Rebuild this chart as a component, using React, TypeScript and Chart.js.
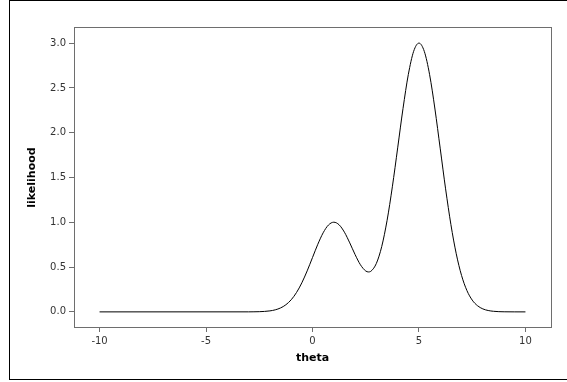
import React, { useEffect, useRef } from "react";
import { Chart, registerables } from "chart.js";

Chart.register(...registerables);

// Sampled likelihood curve over theta
const theta: number[] = [
  -10, -3, -2.75, -2.5, -2.25, -2, -1.75, -1.5, -1.25, -1, -0.75, -0.5, -0.25,
  0, 0.25, 0.5, 0.75, 1, 1.25, 1.5, 1.75, 2, 2.25, 2.5, 2.625, 2.75, 3, 3.25,
  3.5, 3.75, 4, 4.25, 4.5, 4.75, 5, 5.25, 5.5, 5.75, 6, 6.25, 6.5, 6.75, 7,
  7.25, 7.5, 7.75, 8, 8.25, 8.5, 8.75, 9, 9.5, 10,
];
const likelihood: number[] = [
  0, 0.0003, 0.0009, 0.0022, 0.0051, 0.0111, 0.0228, 0.0439, 0.0796, 0.1353,
  0.2163, 0.3247, 0.4578, 0.6065, 0.7549, 0.8826, 0.9696, 1.001, 0.9718,
  0.8891, 0.7701, 0.6398, 0.5262, 0.4564, 0.4459, 0.4551, 0.5413, 0.7285,
  1.018, 1.3962, 1.8307, 2.2695, 2.6497, 2.9085, 3.0003, 2.9077, 2.6475,
  2.2644, 1.8196, 1.3734, 0.9741, 0.6489, 0.406, 0.2388, 0.1317, 0.0684,
  0.0333, 0.0153, 0.0066, 0.0026, 0.001, 0.0001, 0,
];

const xTicks: number[] = [-10, -5, 0, 5, 10];
const yTicks: number[] = [0, 0.5, 1, 1.5, 2, 2.5, 3];

const xTitle = "theta";
const yTitle = "likelihood";

const tickFont = { family: "'DejaVu Sans', sans-serif", size: 10 };
const titleFont = { family: "'DejaVu Sans', sans-serif", size: 11, weight: "bold" as const };

// Frame around the plot area and the outer panel border
const framePlugin = {
  id: "frames",
  afterDraw(chart: Chart) {
    const { ctx, chartArea } = chart;
    ctx.save();
    ctx.lineWidth = 1;
    ctx.strokeStyle = "#6e6e6e";
    const l = Math.round(chartArea.left) + 0.5;
    const t = Math.round(chartArea.top) + 0.5;
    const r = Math.round(chartArea.right) + 0.5;
    const b = Math.round(chartArea.bottom) - 0.5;
    ctx.strokeRect(l, t, r - l, b - t);
    ctx.strokeStyle = "#000";
    ctx.strokeRect(9.5, 0.5, 600, 379);
    ctx.restore();
  },
};

export default function App() {
  const canvasRef = useRef<HTMLCanvasElement | null>(null);

  useEffect(() => {
    if (!canvasRef.current) return;
    const chart = new Chart(canvasRef.current, {
      type: "line",
      data: {
        datasets: [
          {
            data: theta.map((t, i) => ({ x: t, y: likelihood[i] })),
            borderColor: "#000",
            borderWidth: 1,
            pointRadius: 0,
            cubicInterpolationMode: "monotone",
            fill: false,
          },
        ],
      },
      options: {
        responsive: false,
        animation: false,
        events: [],
        layout: { padding: { left: 0, top: 27, right: 16, bottom: 0 } },
        plugins: { legend: { display: false }, tooltip: { enabled: false } },
        scales: {
          x: {
            type: "linear",
            min: -11.2,
            max: 11.2,
            afterBuildTicks: (scale: any) => {
              scale.ticks = xTicks.map((v) => ({ value: v }));
            },
            afterFit: (scale: any) => {
              scale.height = 54;
            },
            grid: { drawOnChartArea: false, tickLength: 4, color: "#6e6e6e" },
            border: { display: false },
            ticks: {
              font: tickFont,
              color: "#333",
              padding: 3,
              maxRotation: 0,
              callback: (v: any) => String(v),
            },
            title: {
              display: true,
              text: xTitle,
              font: titleFont,
              color: "#000",
              padding: { top: 0, bottom: 17 },
            },
          },
          y: {
            type: "linear",
            min: -0.18,
            max: 3.18,
            afterBuildTicks: (scale: any) => {
              scale.ticks = yTicks.map((v) => ({ value: v }));
            },
            afterFit: (scale: any) => {
              scale.width = 74;
            },
            grid: { drawOnChartArea: false, tickLength: 5, color: "#6e6e6e" },
            border: { display: false },
            ticks: {
              font: tickFont,
              color: "#333",
              padding: 3,
              callback: (v: any) => Number(v).toFixed(1),
            },
            title: {
              display: true,
              text: yTitle,
              font: titleFont,
              color: "#000",
              padding: { top: 26, bottom: 0 },
            },
          },
        },
      },
      plugins: [framePlugin],
    });
    return () => chart.destroy();
  }, []);

  return (
    <div style={{ position: "absolute", left: 0, top: 0, width: 567, height: 382, background: "#fff" }}>
      <canvas ref={canvasRef} width={567} height={382} style={{ display: "block" }} />
    </div>
  );
}
